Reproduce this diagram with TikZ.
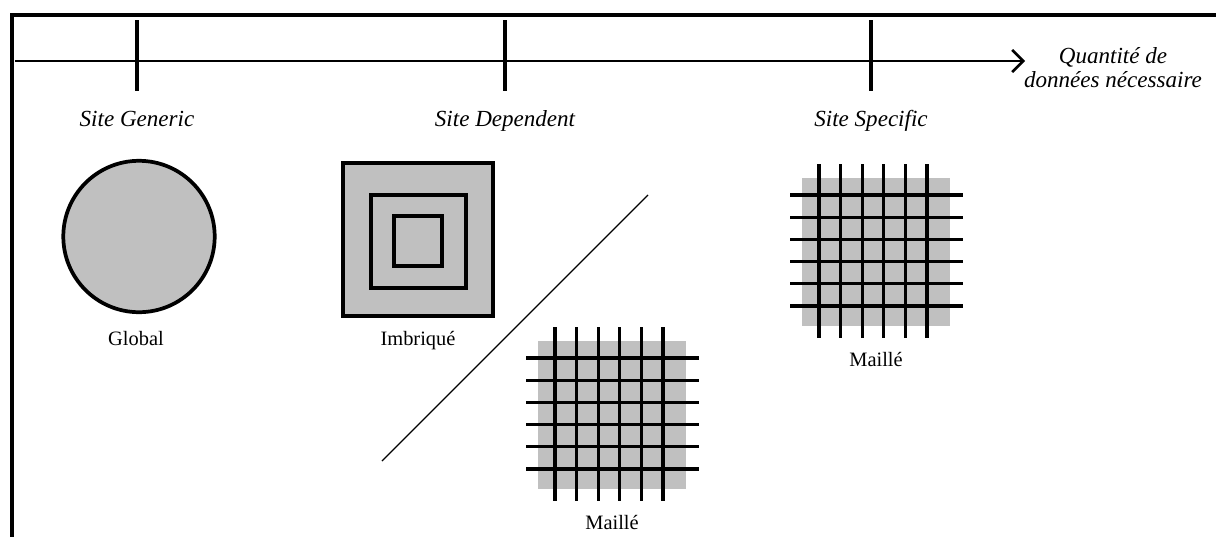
\documentclass[tikz,border=0pt]{standalone}
\usepackage{fontspec}
\setmainfont{Liberation Serif}
\usepackage{tikz}
\usetikzlibrary{arrows.meta}
\usetikzlibrary{positioning}
\definecolor{fondgris}{HTML}{C0C0C0}
\tikzset{
    cadre/.style={
           line width=1.8pt,
           line cap=rect,
           },
    axe/.style={
           line width=1.1pt,
           -{Straight Barb[length=5pt,width=10pt,line width=1.2pt]},
           },
    graduation/.style={line width=1.5pt},
    forme/.style={
           draw=black,
           fill=fondgris,
           line width=1.7pt,
           },
    trait/.style={line width=1.5pt},
    titre/.style={
           font=\fontsize{10.5}{10.5}\selectfont\itshape,
           anchor=base,
           inner sep=0pt,
           },
    legende/.style={
           font=\fontsize{9.3}{11}\selectfont,
           anchor=base,
           inner sep=0pt,
           },
}

% grille grise : #1,#2 coin haut gauche, #3 nom de la legende
\newcommand{\maille}[3]{%
 \begin{scope}[shift={(#1,#2)}]
  \fill[fondgris] (0,0) rectangle (148,148);
  \foreach \k in {0,...,5} {
    \draw[trait] (17+21.6*\k,-14) -- (17+21.6*\k,160);
    \draw[trait] (-12,17+22.2*\k) -- (161,17+22.2*\k);
  }
  \node[legende] (#3) at (74,188) {Maillé};
 \end{scope}}

\begin{document}
\begin{tikzpicture}[x=0.016cm,y=-0.016cm]
  \useasboundingbox (0,0) rectangle (1216,536);

  % cadre
  \draw[cadre] (12,540) -- (12,14.7) -- (1220,14.7);

  % axe
  \coordinate (origine) at (15,61);
  \coordinate (fin) at (1025,61);
  \draw[axe] (origine) -- (fin);
  \node[titre,
 align=center] (quantite) at (1113,87)
 {Quantité de\\données nécessaire};

  \foreach \x/\nom/\texte in {137/generic/Site Generic,
                              505/dependent/Site Dependent,
                              871/specific/Site Specific} {
    \draw[graduation] (\x,20) -- (\x,91);
    \node[titre] (\nom) at (\x,126) {\texte};
  }

  % global
  \draw[forme] (139,236.5) circle[radius=75.7];
  \node[legende] (global) at (136,345) {Global};

  % imbrique
  \draw[forme] (343,163) rectangle (493,316);
  \draw[forme] (371,195) rectangle (466,288);
  \draw[forme] (394,216) rectangle (442,266);
  \node[legende] (imbrique) at (418,345) {Imbriqué};

  \draw[line width=0.6pt] (648,195) -- (382,461);

  % maille
  \maille{538}{341}{mailleA}
  \maille{802}{178}{mailleB}
\end{tikzpicture}
\end{document}
